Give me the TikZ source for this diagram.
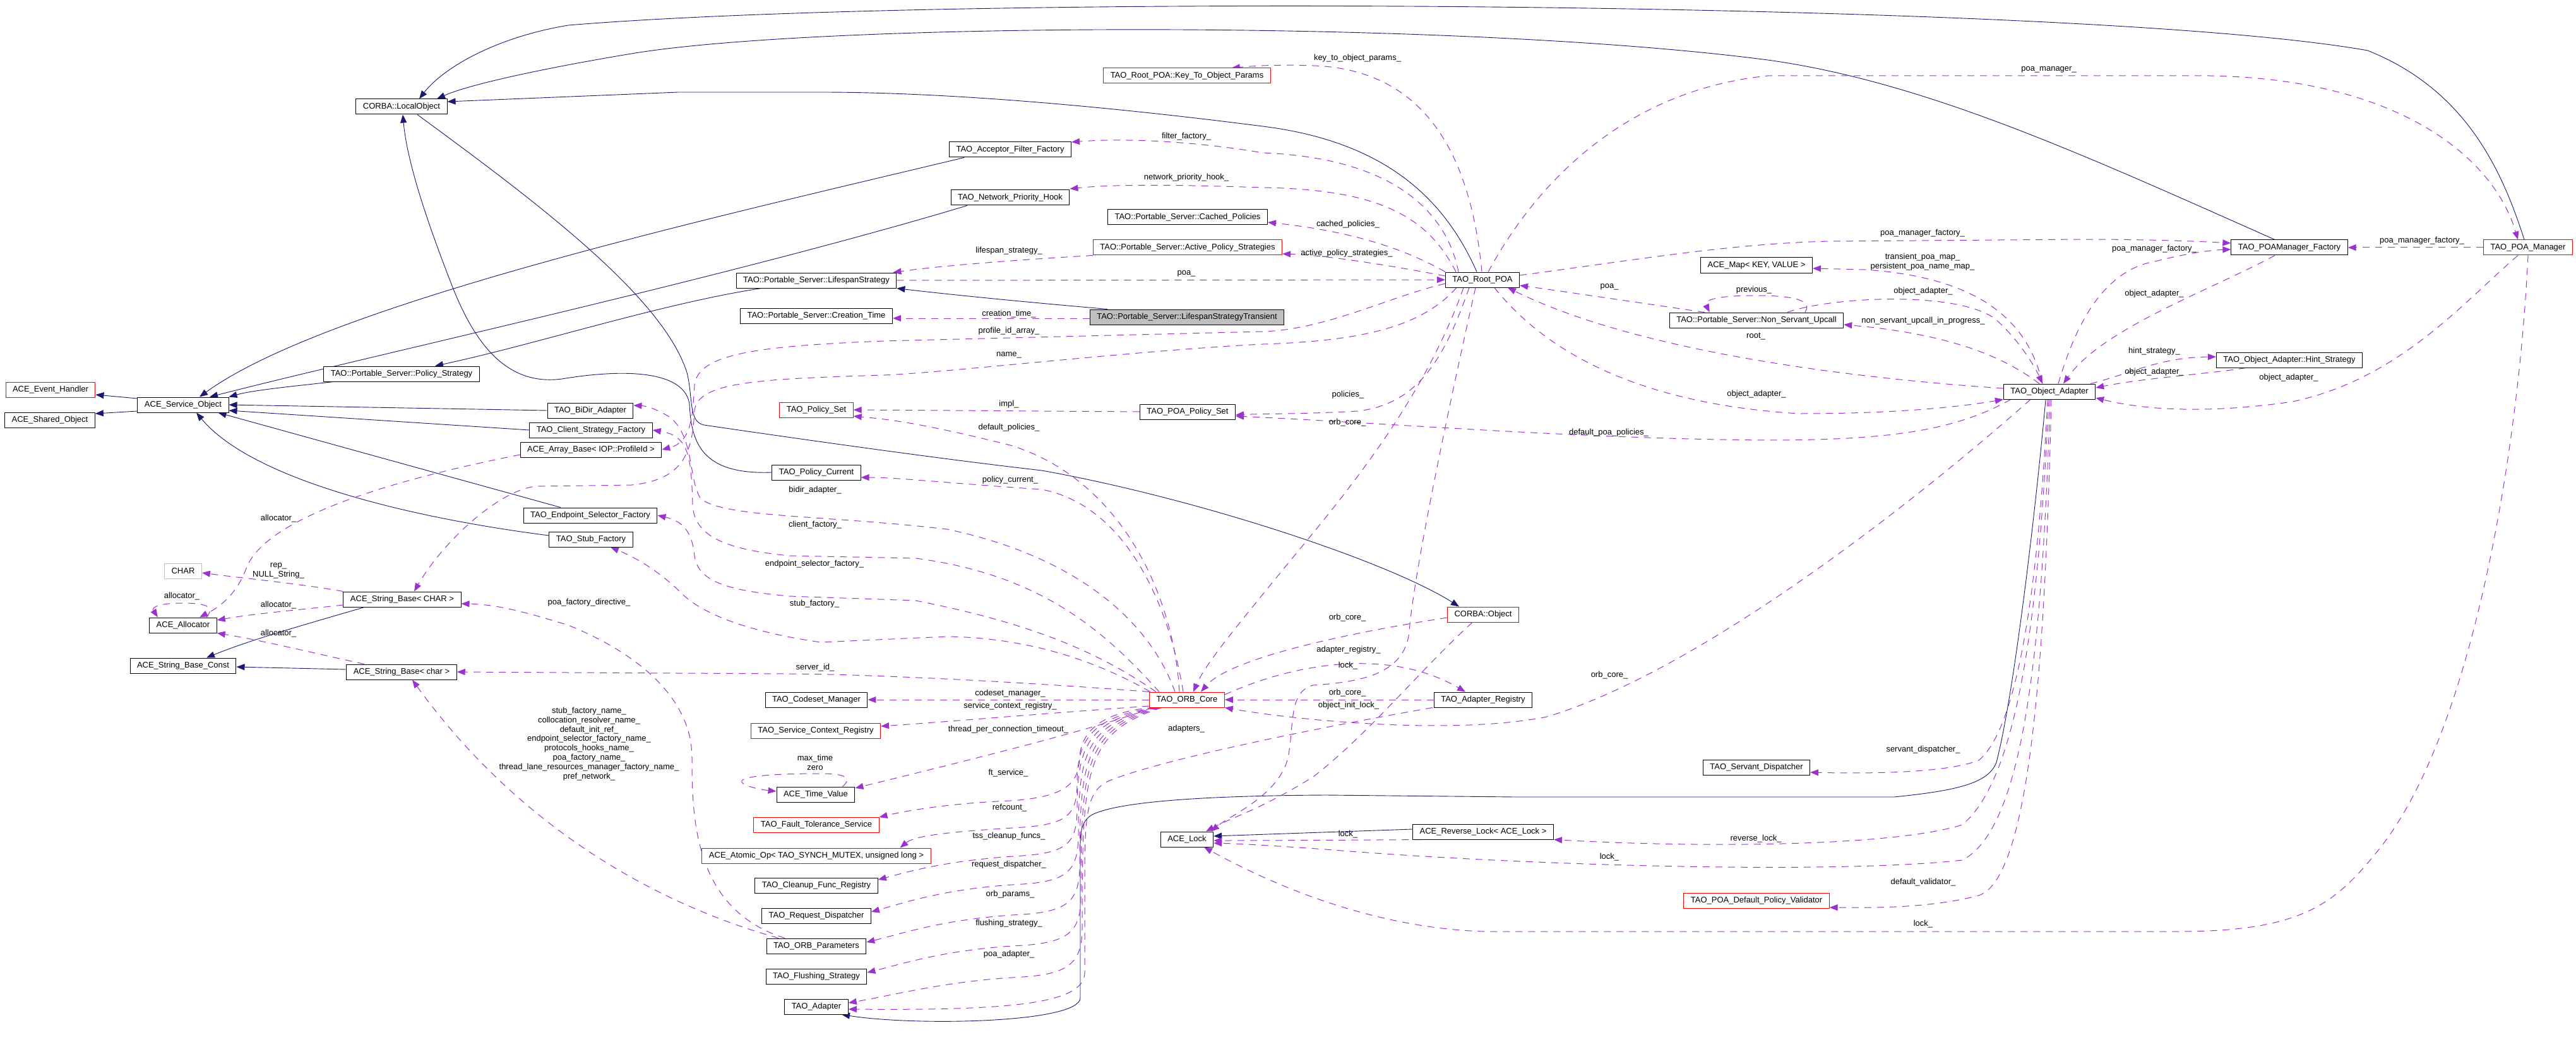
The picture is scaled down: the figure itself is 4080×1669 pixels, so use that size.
\documentclass[tikz,border=0pt]{standalone}
\usepackage{fontspec}
\setmainfont{Liberation Sans}
\usetikzlibrary{arrows.meta}
\pgfdeclarelayer{bg}
\pgfsetlayers{bg,main}
\definecolor{inhcol}{HTML}{191970}
\definecolor{usecol}{HTML}{9A32CD}
\definecolor{greyfill}{HTML}{BFBFBF}
\tikzset{
  box/.style={draw=black, line width=1pt, fill=white, inner xsep=11pt, inner ysep=0pt, minimum height=24pt, font=\fontsize{13}{14.8}\selectfont},
  redbox/.style={box, draw=red},
  inh/.style={draw=inhcol, line width=0.9pt, -{Triangle[length=13pt,width=10pt]}},
  use/.style={draw=usecol, line width=1pt, dash pattern=on 11pt off 9pt, -{Triangle[length=13pt,width=10pt]}},
  lbl/.style={font=\fontsize{13}{14.8}\selectfont, inner sep=0pt, align=center},
}
\begin{document}
\begin{tikzpicture}[x=1pt,y=-1pt]
\useasboundingbox (0,0) rectangle (4080,1669);
\node[redbox] (evh) at (80,617) {ACE\_Event\_Handler};
\node[box] (shob) at (79,665) {ACE\_Shared\_Object};
\node[box] (svco) at (290,641) {ACE\_Service\_Object};
\node[box] (polstr) at (636,592) {TAO::Portable\_Server::Policy\_Strategy};
\node[box, draw=greyfill] (chr) at (290,904) {CHAR};
\node[box] (alloc) at (290,990) {ACE\_Allocator};
\node[box] (sbconst) at (290,1054) {ACE\_String\_Base\_Const};
\node[box] (sbCHAR) at (637,949) {ACE\_String\_Base< CHAR >};
\node[box] (sbchar) at (636,1064) {ACE\_String\_Base< char >};
\node[box] (locobj) at (636,169) {CORBA::LocalObject};
\node[box] (bidir) at (935,650) {TAO\_BiDir\_Adapter};
\node[box] (clifac) at (936,681) {TAO\_Client\_Strategy\_Factory};
\node[box] (arrbase) at (936,712) {ACE\_Array\_Base< IOP::ProfileId >};
\node[box] (epsel) at (935,816) {TAO\_Endpoint\_Selector\_Factory};
\node[box] (stubfac) at (936,854) {TAO\_Stub\_Factory};
\node[box] (lifespan) at (1293,444) {TAO::Portable\_Server::LifespanStrategy};
\node[box] (crtime) at (1293,500) {TAO::Portable\_Server::Creation\_Time};
\node[redbox] (polset) at (1293,649) {TAO\_Policy\_Set};
\node[box] (polcur) at (1293,748) {TAO\_Policy\_Current};
\node[box] (codeset) at (1293,1108) {TAO\_Codeset\_Manager};
\node[redbox] (scr) at (1292,1157) {TAO\_Service\_Context\_Registry};
\node[box] (timeval) at (1292,1258) {ACE\_Time\_Value};
\node[redbox] (ftserv) at (1293,1306) {TAO\_Fault\_Tolerance\_Service};
\node[redbox] (atomic) at (1293,1355) {ACE\_Atomic\_Op< TAO\_SYNCH\_MUTEX, unsigned long >};
\node[box] (cleanup) at (1293,1402) {TAO\_Cleanup\_Func\_Registry};
\node[box] (reqdisp) at (1293,1450) {TAO\_Request\_Dispatcher};
\node[box] (orbparams) at (1293,1498) {TAO\_ORB\_Parameters};
\node[box] (flush) at (1293,1546) {TAO\_Flushing\_Strategy};
\node[box] (adapter) at (1293,1594) {TAO\_Adapter};
\node[box] (accfil) at (1600,237) {TAO\_Acceptor\_Filter\_Factory};
\node[box] (nethook) at (1600,313) {TAO\_Network\_Priority\_Hook};
\node[redbox] (keyto) at (1880,120) {TAO\_Root\_POA::Key\_To\_Object\_Params};
\node[box] (cached) at (1881,344) {TAO::Portable\_Server::Cached\_Policies};
\node[redbox] (activ) at (1881,392) {TAO::Portable\_Server::Active\_Policy\_Strategies};
\node[box, fill=greyfill] (transient) at (1880,502) {TAO::Portable\_Server::LifespanStrategyTransient};
\node[box] (poapolset) at (1881,652) {TAO\_POA\_Policy\_Set};
\node[redbox] (orbcore) at (1880,1108) {TAO\_ORB\_Core};
\node[box] (acelock) at (1880,1329) {ACE\_Lock};
\node[box] (rootpoa) at (2348,443) {TAO\_Root\_POA};
\node[redbox] (corbaobj) at (2349,973) {CORBA::Object};
\node[box] (adreg) at (2349,1108) {TAO\_Adapter\_Registry};
\node[box] (revlock) at (2349,1317) {ACE\_Reverse\_Lock< ACE\_Lock >};
\node[box] (acemap) at (2782,420) {ACE\_Map< KEY, VALUE >};
\node[box] (nsu) at (2782,507) {TAO::Portable\_Server::Non\_Servant\_Upcall};
\node[box] (servdisp) at (2782,1215) {TAO\_Servant\_Dispatcher};
\node[redbox] (defval) at (2782,1426) {TAO\_POA\_Default\_Policy\_Validator};
\node[box] (objad) at (3246,620) {TAO\_Object\_Adapter};
\node[box] (poamf) at (3626,392) {TAO\_POAManager\_Factory};
\node[box] (hint) at (3626,570) {TAO\_Object\_Adapter::Hint\_Strategy};
\node[redbox] (poam) at (4004,392) {TAO\_POA\_Manager};

\begin{pgfonlayer}{bg}
\draw[inh] ([xshift=28]transient.north west) .. controls (1620,478) and (1500,466) .. (lifespan.south east);
\draw[inh] ([xshift=-87]lifespan.south) .. controls (1050,480) and (850,545) .. ([xshift=53]polstr.north);
\draw[inh] ([xshift=16]polstr.south west) .. controls (460,612) and (400,618) .. (svco.north east);
\draw[inh] ([yshift=10]svco.west) -- ([yshift=-8]evh.east);
\draw[inh] ([yshift=-10]svco.west) -- ([yshift=10]shob.east);
\draw[inh] ([xshift=-73]accfil.south) .. controls (1150,340) and (520,480) .. ([xshift=26]svco.north);
\draw[inh] ([xshift=-68]nethook.south) .. controls (1150,440) and (600,560) .. ([xshift=42]svco.north);
\draw[inh] (bidir.west) -- (svco.east);
\draw[inh] (clifac.west) -- ([yshift=-9]svco.east);
\draw[inh] ([xshift=-47]epsel.north) -- ([xshift=-17]svco.south east);
\draw[inh] ([yshift=6]stubfac.west) .. controls (650,820) and (400,760) .. ([xshift=21]svco.south);
\draw[inh] (polcur.west) .. controls (1110,752) and (1095,700) .. (1092,640) .. controls (1085,590) and (1000,582) .. (890,600) .. controls (800,612) and (750,540) .. (715,450) .. controls (680,360) and (645,260) .. ([xshift=2]locobj.south);
\draw[inh] ([xshift=25]locobj.south) .. controls (850,320) and (1050,470) .. (1088,590) .. controls (1098,630) and (1090,668) .. (1115,673) .. controls (1300,700) and (1500,728) .. (1650,745) .. controls (1900,790) and (2200,890) .. ([xshift=-38]corbaobj.north);
\draw[inh] ([xshift=-9]rootpoa.north) .. controls (2290,320) and (2200,225) .. (2000,200) .. controls (1750,168) and (1500,146) .. (1300,146) -- (1074,146) -- ([yshift=8]locobj.east);
\draw[inh] ([xshift=-23]poamf.north) .. controls (3300,245) and (3050,130) .. (2800,95) .. controls (2300,30) and (1300,35) .. (1000,85) .. controls (850,110) and (740,135) .. ([xshift=56]locobj.north);
\draw[inh] ([xshift=-6]poam.north) .. controls (3960,260) and (3900,140) .. (3750,80) .. controls (3300,0) and (1500,-10) .. (900,40) .. controls (780,60) and (700,110) .. ([xshift=28]locobj.north);
\draw[inh] ([xshift=-60]sbCHAR.south) .. controls (480,990) and (400,1012) .. ([xshift=37]sbconst.north);
\draw[inh] ([yshift=4]sbchar.west) -- ([yshift=-2]sbconst.east);
\draw[inh] ([yshift=4]revlock.west) -- ([yshift=5]acelock.east);
\draw[inh] ([xshift=-6]objad.south) .. controls (3225,800) and (3190,1100) .. (3162,1207) .. controls (3150,1240) and (3100,1252) .. (3000,1262) -- (2400,1262) -- (2100,1259) .. controls (1900,1260) and (1770,1270) .. (1730,1290) .. controls (1712,1300) and (1711,1320) .. (1711,1340) -- (1711,1580) .. controls (1711,1620) and (1450,1625) .. ([xshift=40]adapter.south);

\draw[use] ([yshift=-2]transient.west) -- ([yshift=-4]crtime.east) node[lbl] (lct) at (1598,497) {creation\_time\_};
\draw[use] (lifespan.east) -- (rootpoa.west) node[lbl] (lpoa1) at (1879,433) {poa\_};
\draw[use] (activ.south west) .. controls (1600,412) and (1480,422) .. ([xshift=-6]lifespan.north east) node[lbl] (lls) at (1598,397) {lifespan\_strategy\_};
\draw[use] ([yshift=6]rootpoa.west) .. controls (2200,420) and (2100,404) .. ([yshift=-10]activ.east) node[lbl] (laps) at (2133,401) {active\_policy\_strategies\_};
\draw[use] (rootpoa.north west) .. controls (2200,380) and (2100,362) .. ([yshift=-8]cached.east) node[lbl] (lcp) at (2135,355) {cached\_policies\_};
\draw[use] ([xshift=-42]rootpoa.north) .. controls (2260,340) and (2180,300) .. (2000,297) .. controls (1850,292) and (1760,292) .. ([yshift=14]nethook.east) node[lbl] (lnph) at (1879,281) {network\_priority\_hook\_};
\draw[use] ([xshift=-38]rootpoa.north) .. controls (2290,330) and (2200,250) .. (2000,242) .. controls (1900,225) and (1790,218) .. ([yshift=12]accfil.east) node[lbl] (lff) at (1879,216) {filter\_factory\_};
\draw[use] ([xshift=-1]rootpoa.north) .. controls (2330,250) and (2260,110) .. (2080,104) .. controls (2030,102) and (1990,104) .. ([xshift=-62]keyto.north east) node[lbl] (lkto) at (2150,92) {key\_to\_object\_params\_};
\draw[use] ([xshift=9]rootpoa.north) .. controls (2450,260) and (2600,140) .. (2800,120) -- (3500,120) .. controls (3800,125) and (3950,250) .. ([xshift=-16]poam.north) node[lbl] (lpm) at (3245,110) {poa\_manager\_};
\draw[use] ([yshift=7]rootpoa.east) .. controls (2600,410) and (2750,385) .. (2900,382) -- (3300,379) .. controls (3400,379) and (3480,382) .. ([yshift=7]poamf.west) node[lbl] (lpmf1) at (3045,369) {poa\_manager\_factory\_};
\draw[use] ([xshift=14]objad.north) .. controls (3280,540) and (3320,430) .. (3413,414) .. controls (3460,402) and (3500,396) .. ([yshift=-3]poamf.west) node[lbl] (lpmf2) at (3412,394) {poa\_manager\_factory\_};
\draw[use] ([xshift=-23]poamf.south) .. controls (3500,460) and (3330,520) .. ([xshift=22]objad.north) node[lbl] (loa1) at (3412,465) {object\_adapter\_};
\draw[use] ([xshift=-8]objad.north east) .. controls (3380,590) and (3420,566) .. ([yshift=5]hint.west) node[lbl] (lhs) at (3412,556) {hint\_strategy\_};
\draw[use] ([xshift=47]hint.south west) .. controls (3500,592) and (3400,598) .. ([yshift=6]objad.east) node[lbl] (loa2) at (3412,589) {object\_adapter\_};
\draw[use] ([xshift=-16]poam.south) .. controls (3900,480) and (3800,600) .. (3631,636) .. controls (3500,655) and (3400,650) .. ([yshift=-10]objad.east) node[lbl] (loa3) at (3625,598) {object\_adapter\_};
\draw[use] (poam.west) -- (poamf.east) node[lbl] (lpmf3) at (3836,381) {poa\_manager\_factory\_};
\draw[use] (poam.south) .. controls (3990,700) and (3920,1150) .. (3771,1341) .. controls (3700,1430) and (3650,1475) .. (3450,1475) -- (2350,1475) .. controls (2200,1470) and (2050,1420) .. ([xshift=27]acelock.south) node[lbl] (llock1) at (3046,1463) {lock\_};
\draw[use] ([xshift=-11]objad.north) .. controls (3215,520) and (3150,440) .. (2954,427) -- ([yshift=-5]acemap.east) node[lbl] (lmap) at (3045,415) {transient\_poa\_map\_\\persistent\_poa\_name\_map\_};
\draw[use] ([xshift=215]nsu.north west) .. controls (2870,478) and (2850,468) .. (2780,468) .. controls (2720,468) and (2698,475) .. ([xshift=64]nsu.north west) node[lbl] (lprev) at (2778,459) {previous\_};
\draw[use] ([xshift=187]nsu.north west) .. controls (2900,470) and (3100,460) .. (3160,505) .. controls (3200,540) and (3225,585) .. ([xshift=-11]objad.north) node[lbl] (loa4) at (3046,461) {object\_adapter\_};
\draw[use] ([xshift=56]nsu.north west) .. controls (2600,480) and (2480,462) .. ([yshift=-9]rootpoa.east) node[lbl] (lpoa2) at (2549,454) {poa\_};
\draw[use] ([xshift=-16]objad.north) .. controls (3180,570) and (3100,530) .. ([yshift=-7]nsu.east) node[lbl] (lnsu) at (3046,508) {non\_servant\_upcall\_in\_progress\_};
\draw[use] ([yshift=5]objad.west) .. controls (2950,600) and (2600,560) .. ([xshift=40]rootpoa.south) node[lbl] (lroot) at (2781,533) {root\_};
\draw[use] ([xshift=19]rootpoa.south) .. controls (2450,560) and (2600,640) .. (2850,655) .. controls (3000,655) and (3100,645) .. (objad.south west) node[lbl] (loa5) at (2782,624) {object\_adapter\_};
\draw[use] ([xshift=-21]rootpoa.south) .. controls (2290,560) and (2250,640) .. (2150,651) .. controls (2060,656) and (2000,655) .. ([yshift=-5]poapolset.east) node[lbl] (lpol) at (2135,625) {policies\_};
\draw[use] ([xshift=12]objad.south west) .. controls (3100,680) and (3000,697) .. (2800,697) .. controls (2500,695) and (2200,670) .. ([yshift=-7]poapolset.east) node[lbl] (ldpp) at (2548,685) {default\_poa\_policies\_};
\draw[use] ([xshift=-30]rootpoa.south) .. controls (2260,620) and (2150,760) .. (2050,880) .. controls (1960,990) and (1910,1050) .. ([xshift=10]orbcore.north) node[lbl] (lorb1) at (2134,669) {orb\_core\_};
\draw[use] ([yshift=-6]rootpoa.west) .. controls (2200,470) and (2100,522) .. (2000,525) -- (1400,540) .. controls (1200,548) and (1105,560) .. (1100,610) .. controls (1097,660) and (1095,700) .. (arrbase.east) node[lbl] (lpid) at (1598,524) {profile\_id\_array\_};
\draw[use] ([xshift=18]rootpoa.south west) .. controls (2250,520) and (2150,540) .. (2000,545) .. controls (1800,555) and (1500,590) .. (1400,594) .. controls (1200,600) and (1105,605) .. (1100,650) .. controls (1097,720) and (1080,760) .. (1000,768) -- (850,770) .. controls (790,775) and (700,860) .. ([xshift=19]sbCHAR.north) node[lbl] (lname) at (1598,562) {name\_};
\draw[use] (poapolset.west) -- (polset.east) node[lbl] (limpl) at (1598,640) {impl\_};
\draw[use] ([xshift=-12]orbcore.north) .. controls (1860,950) and (1780,760) .. (1600,705) .. controls (1480,675) and (1420,665) .. ([yshift=-10]polset.east) node[lbl] (ldp) at (1598,677) {default\_policies\_};
\draw[use] ([xshift=-6]orbcore.north) .. controls (1850,950) and (1780,800) .. (1650,775) .. controls (1500,765) and (1420,756) .. ([yshift=-8]polcur.east) node[lbl] (lpc) at (1600,760) {policy\_current\_};
\draw[use] ([xshift=-19]orbcore.north) .. controls (1820,980) and (1700,880) .. (1500,838) .. controls (1300,815) and (1150,820) .. (1110,790) .. controls (1090,760) and (1100,690) .. (1060,660) .. controls (1040,648) and (1025,643) .. ([yshift=8]bidir.east) node[lbl] (lbidir) at (1291,776) {bidir\_adapter\_};
\draw[use] ([xshift=-44]orbcore.north) .. controls (1750,1000) and (1650,910) .. (1450,884) -- (1250,880) .. controls (1150,870) and (1100,850) .. (1097,800) .. controls (1095,720) and (1090,690) .. (clifac.east) node[lbl] (lcf) at (1291,831) {client\_factory\_};
\draw[use] ([xshift=-49]orbcore.north) .. controls (1750,1040) and (1650,990) .. (1450,951) -- (1250,944) .. controls (1150,935) and (1105,920) .. (1100,880) .. controls (1096,840) and (1080,825) .. (epsel.east) node[lbl] (lesf) at (1290,893) {endpoint\_selector\_factory\_};
\draw[use] ([xshift=-58]orbcore.north) .. controls (1760,1060) and (1650,1010) .. (1500,1008) -- (1300,1017) .. controls (1180,1000) and (1110,970) .. (1080,940) .. controls (1040,900) and (1000,880) .. ([xshift=31]stubfac.south) node[lbl] (lsf) at (1290,956) {stub\_factory\_};
\draw[use] (orbcore.north west) .. controls (1650,1082) and (1400,1068) .. (1250,1067) -- (sbchar.east) node[lbl] (lsid) at (1291,1057) {server\_id\_};
\draw[use] (orbcore.west) -- (codeset.east) node[lbl] (lcm) at (1600,1098) {codeset\_manager\_};
\draw[use] ([yshift=-10]orbcore.west) .. controls (1650,1130) and (1500,1143) .. ([yshift=7]scr.east) node[lbl] (lscr) at (1600,1118) {service\_context\_registry\_};
\draw[use] ([xshift=5]orbcore.south west) .. controls (1750,1150) and (1550,1200) .. ([yshift=10]timeval.east) node[lbl] (ltpct) at (1597,1155) {thread\_per\_connection\_timeout\_};
\draw[use] ([xshift=-20]timeval.north east) .. controls (1350,1232) and (1340,1225) .. (1300,1225) .. controls (1200,1225) and (1170,1232) .. (1175,1239) .. controls (1180,1246) and (1210,1251) .. ([yshift=5]timeval.west) node[lbl] (lmt) at (1291,1207) {max\_time\\zero};
\draw[use] ([xshift=8]orbcore.south west) .. controls (1760,1125) and (1712,1150) .. (1710,1200) .. controls (1708,1240) and (1690,1262) .. (1600,1268) .. controls (1500,1272) and (1430,1285) .. ([yshift=12]ftserv.east) node[lbl] (lft) at (1597,1224) {ft\_service\_};
\draw[use] ([xshift=10]orbcore.south west) .. controls (1730,1135) and (1706,1170) .. (1706,1240) .. controls (1706,1290) and (1690,1305) .. (1620,1310) .. controls (1520,1316) and (1450,1322) .. ([xshift=-49]atomic.north east) node[lbl] (lrc) at (1599,1279) {refcount\_};
\draw[use] ([xshift=12]orbcore.south west) .. controls (1725,1140) and (1706,1180) .. (1706,1280) .. controls (1706,1335) and (1690,1350) .. (1620,1355) .. controls (1500,1362) and (1440,1380) .. ([yshift=9]cleanup.east) node[lbl] (ltss) at (1598,1324) {tss\_cleanup\_funcs\_};
\draw[use] ([xshift=14]orbcore.south west) .. controls (1722,1145) and (1708,1190) .. (1708,1320) .. controls (1708,1380) and (1690,1395) .. (1620,1400) .. controls (1500,1406) and (1430,1430) .. ([yshift=6]reqdisp.east) node[lbl] (lrd) at (1598,1369) {request\_dispatcher\_};
\draw[use] ([xshift=16]orbcore.south west) .. controls (1720,1150) and (1710,1200) .. (1710,1370) .. controls (1710,1428) and (1690,1443) .. (1620,1448) .. controls (1500,1454) and (1430,1478) .. ([yshift=6]orbparams.east) node[lbl] (lop) at (1600,1416) {orb\_params\_};
\draw[use] ([xshift=18]orbcore.south west) .. controls (1718,1155) and (1712,1210) .. (1712,1420) .. controls (1712,1477) and (1690,1492) .. (1620,1497) .. controls (1500,1503) and (1430,1526) .. ([yshift=6]flush.east) node[lbl] (lfs) at (1598,1462) {flushing\_strategy\_};
\draw[use] ([xshift=20]orbcore.south west) .. controls (1716,1160) and (1714,1220) .. (1714,1470) .. controls (1714,1527) and (1690,1542) .. (1620,1547) .. controls (1500,1553) and (1420,1575) .. ([yshift=6]adapter.east) node[lbl] (lpa) at (1598,1511) {poa\_adapter\_};
\draw[use] ([xshift=-80]adreg.south) .. controls (2100,1150) and (1850,1200) .. (1760,1235) .. controls (1720,1250) and (1718,1290) .. (1718,1400) -- (1718,1540) .. controls (1718,1590) and (1600,1600) .. ([yshift=-4]adapter.east) node[lbl] (lads) at (1879,1154) {adapters\_};
\draw[use] ([xshift=-60]orbparams.north) .. controls (1000,1420) and (800,1280) .. ([xshift=17]sbchar.south) node[lbl] (lstr) at (933,1178) {stub\_factory\_name\_\\collocation\_resolver\_name\_\\default\_init\_ref\_\\endpoint\_selector\_factory\_name\_\\protocols\_hooks\_name\_\\poa\_factory\_name\_\\thread\_lane\_resources\_manager\_factory\_name\_\\pref\_network\_};
\draw[use] ([xshift=-50]orbparams.north) .. controls (1100,1440) and (1096,1300) .. (1096,1200) .. controls (1096,1100) and (1000,1030) .. (900,990) .. controls (820,965) and (780,957) .. ([yshift=-7]sbCHAR.east) node[lbl] (lpfd) at (933,954) {poa\_factory\_directive\_};
\draw[use] (sbCHAR.north west) .. controls (480,925) and (380,915) .. ([yshift=-3]chr.east) node[lbl] (lrep) at (441,904) {rep\_\\NULL\_String\_};
\draw[use] ([yshift=-9]sbCHAR.west) .. controls (480,965) and (400,972) .. ([yshift=8]alloc.east) node[lbl] (lal1) at (441,958) {allocator\_};
\draw[use] ([xshift=-59]sbchar.north) .. controls (500,1035) and (420,1015) .. (alloc.south east) node[lbl] (lal2) at (441,1003) {allocator\_};
\draw[use] ([xshift=37]alloc.north) .. controls (340,962) and (330,955) .. (290,955) .. controls (250,955) and (240,962) .. ([xshift=-40]alloc.north) node[lbl] (lal3) at (288,944) {allocator\_};
\draw[use] ([yshift=-8]arrbase.west) .. controls (620,760) and (420,820) .. (390,900) .. controls (375,940) and (350,960) .. ([xshift=26]alloc.north) node[lbl] (lal4) at (441,821) {allocator\_};
\draw[use] ([yshift=-5]corbaobj.west) .. controls (2150,1000) and (1950,1040) .. ([xshift=22]orbcore.north) node[lbl] (lorb2) at (2134,978) {orb\_core\_};
\draw[use] ([yshift=8]orbcore.east) .. controls (2050,1050) and (2200,1025) .. ([xshift=-28]adreg.north) node[lbl] (lar) at (2136,1029) {adapter\_registry\_};
\draw[use] ([xshift=-11]rootpoa.south) .. controls (2300,620) and (2240,900) .. (2232,1000) .. controls (2225,1070) and (2150,1080) .. (2080,1085) .. controls (2040,1095) and (2050,1150) .. (2040,1200) .. controls (2025,1260) and (1950,1290) .. ([xshift=38]acelock.north) node[lbl] (llock2) at (2135,1054) {lock\_};
\draw[use] (adreg.west) -- (orbcore.east) node[lbl] (lorb3) at (2134,1097) {orb\_core\_};
\draw[use] ([xshift=-17]corbaobj.south) .. controls (2250,1060) and (2170,1160) .. (2080,1230) .. controls (2000,1280) and (1950,1295) .. ([xshift=30]acelock.north) node[lbl] (loil) at (2136,1117) {object\_init\_lock\_};
\draw[use] ([xshift=-30]objad.south) .. controls (3050,780) and (2700,1060) .. (2450,1135) .. controls (2300,1165) and (2050,1140) .. (orbcore.south east) node[lbl] (lorb4) at (2549,1069) {orb\_core\_};
\draw[use] ([xshift=-3]objad.south) .. controls (3230,900) and (3200,1150) .. (3134,1204) .. controls (3080,1225) and (2950,1225) .. ([yshift=-8]servdisp.east) node[lbl] (lsd) at (3046,1187) {servant\_dispatcher\_};
\draw[use] ([xshift=-1]objad.south) .. controls (3230,950) and (3200,1230) .. (3108,1306) .. controls (3000,1340) and (2700,1343) .. (revlock.south east) node[lbl] (lrl) at (2781,1328) {reverse\_lock\_};
\draw[use] ([xshift=1]objad.south) .. controls (3235,1000) and (3210,1310) .. (3108,1362) .. controls (2900,1385) and (2400,1370) .. (2100,1345) .. controls (2000,1338) and (1960,1336) .. ([yshift=-6]acelock.east) node[lbl] (llock3) at (2549,1357) {lock\_};
\draw[use] ([xshift=14]revlock.south west) .. controls (2200,1330) and (2000,1331) .. ([yshift=-2]acelock.east) node[lbl] (llock4) at (2135,1321) {lock\_};
\draw[use] ([xshift=3]objad.south) .. controls (3240,1000) and (3220,1390) .. (3134,1418) .. controls (3050,1440) and (2950,1437) .. ([yshift=-11]defval.east) node[lbl] (ldv) at (3046,1397) {default\_validator\_};
\end{pgfonlayer}
\end{tikzpicture}
\end{document}
